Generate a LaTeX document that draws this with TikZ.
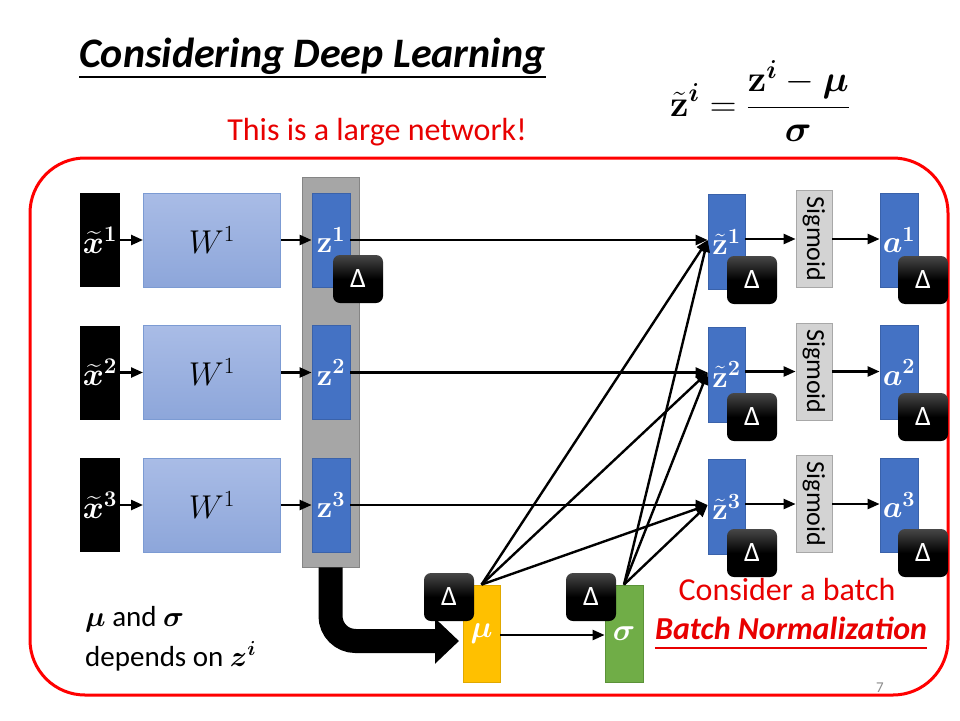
\RequirePackage{fix-cm}
\documentclass[tikz,border=0pt]{standalone}
\usepackage{amsmath,bm}
\usepackage[no-math]{fontspec}
\setmainfont{Carlito}
\usetikzlibrary{arrows.meta,calc}
\definecolor{zblue}{HTML}{4472C4}
\definecolor{zborder}{HTML}{3A62AA}
\definecolor{wtop}{HTML}{A9BCE6}
\definecolor{wbot}{HTML}{8DA6DA}
\definecolor{wborder}{HTML}{7C9BD3}
\definecolor{colgray}{HTML}{A6A6A6}
\definecolor{colborder}{HTML}{858585}
\definecolor{sigfill}{HTML}{D3D3D3}
\definecolor{sigborder}{HTML}{A8A8A8}
\definecolor{muyellow}{HTML}{FFC000}
\definecolor{muborder}{HTML}{E0A800}
\definecolor{sgreen}{HTML}{70AD47}
\definecolor{sborder}{HTML}{5B9238}
\definecolor{redc}{HTML}{FF0000}
\definecolor{redt}{HTML}{E80000}
\definecolor{pagenum}{HTML}{8C8C8C}
\begin{document}
\begin{tikzpicture}[x=1pt,y=-1pt,
  blk/.style={fill=black, inner sep=0pt, minimum width=40pt, minimum height=94pt, text=white, font=\fontsize{32}{32}\selectfont},
  wbox/.style={draw=wborder, line width=1pt, top color=wtop, bottom color=wbot, inner sep=0pt, minimum width=137pt, minimum height=94pt, font=\fontsize{33}{33}\selectfont},
  zbox/.style={fill=zblue, draw=zborder, line width=0.8pt, inner sep=0pt, minimum width=38pt, minimum height=94pt, text=white, font=\fontsize{31}{31}\selectfont},
  deltabox/.style={rounded corners=7pt, top color=black!72, bottom color=black, middle color=black, inner sep=0pt, minimum width=50pt, minimum height=48pt, text=white, font=\fontsize{28}{28}\selectfont},
  sigbox/.style={fill=sigfill, draw=sigborder, line width=0.8pt, inner sep=0pt, minimum width=97pt, minimum height=36pt, rotate=-90, font=\fontsize{26}{26}\selectfont},
  arr/.style={-{Triangle[length=12pt,width=10pt]}, line width=2.4pt},
  lbl/.style={inner sep=0pt}
]
\useasboundingbox[fill=white] (0,0) rectangle (960,720);

% title
\node[lbl, anchor=base west, font=\fontsize{42}{44}\selectfont\bfseries\itshape] (title) at (79,67) {Considering Deep Learning};
\draw[line width=1.2pt] ([yshift=-10pt]title.base west) -- ([yshift=-10pt]title.base east);
\node[lbl, anchor=base, text=redt, font=\fontsize{32}{32}\selectfont] (large) at (377,140) {This is a large network!};
\node[lbl, font=\fontsize{37}{37}\selectfont] (formula) at (760,101) {$\displaystyle \tilde{\mathbf{z}}^{\bm{i}}=\frac{\mathbf{z}^{\bm{i}}-\bm{\mu}}{\bm{\sigma}}$};

% red frame
\draw[redc, line width=3pt, rounded corners=55pt] (30,158) rectangle (948,695);

% gray column
\node[fill=colgray, draw=colborder, line width=0.8pt, inner sep=0pt, minimum width=57pt, minimum height=390pt] (zcol) at (330.5,372) {};

% rows
\foreach \r/\yy in {1/240, 2/372.5, 3/505}{
  \node[blk] (x\r) at (100,\yy) {$\widetilde{\bm{x}}^{\mathbf{\r}}$};
  \node[wbox] (w\r) at (212,\yy) {$W^1$};
  \node[zbox] (z\r) at (331,\yy) {$\mathbf{z}^{\mathbf{\r}}$};
  \node[zbox, minimum width=37pt, minimum height=95pt] (zt\r) at (726.5,\yy+2) {$\tilde{\mathbf{z}}^{\mathbf{\r}}$};
  \node[sigbox] (s\r) at (814,\yy-1) {Sigmoid};
  \node[zbox] (a\r) at (899,\yy) {$\bm{a}^{\mathbf{\r}}$};
  \draw[arr] (x\r.east) -- (w\r.west);
  \draw[arr] (w\r.east) -- (z\r.west);
  \draw[arr] (z\r.east) -- (zt\r.west |- z\r.east);
  \draw[arr] (zt\r.east |- s\r.center) -- (s\r.south);
  \draw[arr] (s\r.north) -- (a\r.west |- s\r.center);
}

% mu and sigma
\node[fill=muyellow, draw=muborder, line width=0.8pt, inner sep=0pt, minimum width=37pt, minimum height=97pt, text=white, font=\fontsize{31}{31}\selectfont] (mu) at (481.5,633.5) {$\bm{\mu}$};
\node[fill=sgreen, draw=sborder, line width=0.8pt, inner sep=0pt, minimum width=38pt, minimum height=97pt, text=white, font=\fontsize{31}{31}\selectfont] (sg) at (624,633.5) {$\bm{\sigma}$};
\draw[arr] (mu.east |- 0,635) -- (sg.west |- 0,635);

\foreach \r in {1,2,3}{
  \draw[arr] (mu.north) -- (zt\r.west |- z\r.east);
  \draw[arr] (sg.north) -- (zt\r.west |- z\r.east);
}

% big bent arrow
\coordinate (bigend) at (459,641);
\draw[line width=24pt, rounded corners=25pt, -{Triangle[length=24pt,width=44pt]}] (zcol.south) |- (bigend);

% delta boxes
\node[deltabox] (dz1) at (358,279) {Δ};
\foreach \r/\dy in {1/280, 2/417, 3/553}{
  \node[deltabox] (dzt\r) at (752,\dy) {Δ};
  \node[deltabox] (da\r) at (923,\dy) {Δ};
}
\node[deltabox] (dmu) at (449,597) {Δ};
\node[deltabox] (dsg) at (591,597) {Δ};

% texts
\node[lbl, anchor=base west, font=\fontsize{29}{29}\selectfont] (dep1) at (85,626) {$\bm{\mu}$ and $\bm{\sigma}$};
\node[lbl, anchor=base west, font=\fontsize{29}{29}\selectfont] (dep2) at (85,666) {depends on $\bm{z}^{\bm{i}}$};
\node[lbl, anchor=base, text=redt, font=\fontsize{32}{32}\selectfont] (cons) at (787,600) {Consider a batch};
\node[lbl, anchor=base, text=redt, font=\fontsize{32}{32}\selectfont\bfseries\itshape] (bn) at (791,639) {Batch Normalization};
\draw[redt, line width=1.2pt] ([yshift=-9pt]bn.base west) -- ([yshift=-9pt]bn.base east);
\node[lbl, anchor=base, text=pagenum, font=\fontsize{15}{15}\selectfont] (pg) at (880,692) {7};
\end{tikzpicture}
\end{document}
